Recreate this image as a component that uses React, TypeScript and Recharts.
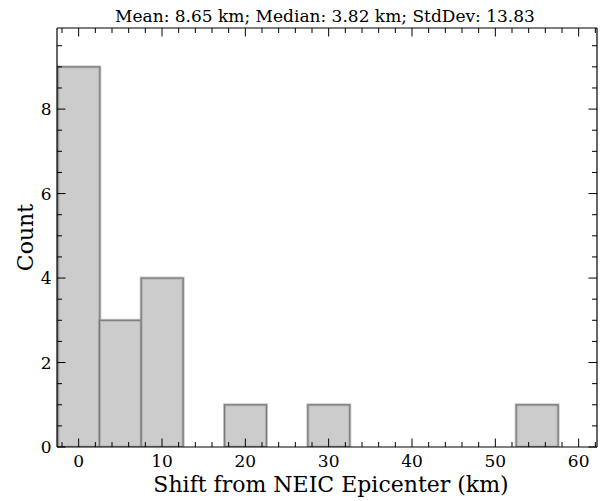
import React from 'react';
import { ComposedChart, Bar, Line, XAxis, YAxis } from 'recharts';

// Histogram bins (5 km wide, centred on these values) and their counts
const binCenters = [0, 5, 10, 15, 20, 25, 30, 35, 40, 45, 50, 55];
const binCounts = [9, 3, 4, 0, 1, 0, 1, 0, 0, 0, 0, 1];

// Axis ranges and ticks
const xDomain: [number, number] = [-2.6, 62.2];
const yDomain: [number, number] = [0, 9.92];
const xTicks = [-2, 0, 2, 4, 6, 8, 10, 12, 14, 16, 18, 20, 22, 24, 26, 28, 30, 32, 34, 36, 38, 40, 42, 44, 46, 48, 50, 52, 54, 56, 58, 60, 62];
const xMajorTicks = [0, 10, 20, 30, 40, 50, 60];
const yTicks = [0, 0.5, 1, 1.5, 2, 2.5, 3, 3.5, 4, 4.5, 5, 5.5, 6, 6.5, 7, 7.5, 8, 8.5, 9, 9.5];
const yMajorTicks = [0, 2, 4, 6, 8];

const titleText = 'Mean: 8.65 km; Median: 3.82 km; StdDev: 13.83';
const xLabelText = 'Shift from NEIC Epicenter (km)';
const yLabelText = 'Count';

const data = binCenters.map((c, i) => ({ center: c, count: binCounts[i] }));

const FONT = '"DejaVu Serif", serif';
const MAJOR_LEN = 8.5;
const MINOR_LEN = 5;

const BottomTick = (props: any) => {
  const { x, y, payload } = props;
  const v = payload.value;
  const major = xMajorTicks.includes(v);
  return (
    <g>
      <line x1={x} x2={x} y1={y} y2={y - (major ? MAJOR_LEN : MINOR_LEN)} stroke="#000" strokeWidth={1} />
      {major && (
        <text x={x} y={y + 20} textAnchor="middle" fontFamily={FONT} fontSize={17} fill="#000">
          {v}
        </text>
      )}
    </g>
  );
};

const TopTick = (props: any) => {
  const { x, y, payload } = props;
  const major = xMajorTicks.includes(payload.value);
  return <line x1={x} x2={x} y1={y} y2={y + (major ? MAJOR_LEN : MINOR_LEN)} stroke="#000" strokeWidth={1} />;
};

const LeftTick = (props: any) => {
  const { x, y, payload } = props;
  const v = payload.value;
  const major = yMajorTicks.includes(v);
  return (
    <g>
      <line x1={x} x2={x + (major ? MAJOR_LEN : MINOR_LEN)} y1={y} y2={y} stroke="#000" strokeWidth={1} />
      {major && (
        <text x={x - 5.5} y={y} textAnchor="end" dominantBaseline="central" fontFamily={FONT} fontSize={17} fill="#000">
          {v}
        </text>
      )}
    </g>
  );
};

const RightTick = (props: any) => {
  const { x, y, payload } = props;
  const major = yMajorTicks.includes(payload.value);
  return <line x1={x} x2={x - (major ? MAJOR_LEN : MINOR_LEN)} y1={y} y2={y} stroke="#000" strokeWidth={1} />;
};

// Grey histogram bar with a soft darker outline
const HistBar = (props: any) => {
  const { x, y, width, height } = props;
  if (!height || height <= 0) return <g />;
  return (
    <g>
      <rect x={x} y={y} width={width} height={height} fill="#cccccc" />
      <rect x={x} y={y} width={width} height={height} fill="none" stroke="#9a9a9a" strokeWidth={3} strokeOpacity={0.55} />
      <rect x={x} y={y} width={width} height={height} fill="none" stroke="#7a7a7a" strokeWidth={1.2} />
    </g>
  );
};

const TitleLabel = (props: any) => {
  const vb = props.viewBox || {};
  return (
    <text x={vb.x + vb.width / 2 - 2} y={vb.y + vb.height - 6.5} textAnchor="middle" fontFamily={FONT} fontSize={17} fill="#000">
      {titleText}
    </text>
  );
};

const XTitle = (props: any) => {
  const vb = props.viewBox || {};
  return (
    <text x={vb.x + vb.width / 2 + 4} y={vb.y + 45} textAnchor="middle" fontFamily={FONT} fontSize={22} fill="#000">
      {xLabelText}
    </text>
  );
};

const YTitle = (props: any) => {
  const vb = props.viewBox || {};
  const cx = 33;
  const cy = vb.y + vb.height / 2;
  return (
    <text x={cx} y={cy} transform={`rotate(-90, ${cx}, ${cy})`} textAnchor="middle" fontFamily={FONT} fontSize={22} fill="#000">
      {yLabelText}
    </text>
  );
};

export default function App() {
  return (
    <div style={{ position: 'absolute', left: 0, top: 0 }}>
      <ComposedChart
        width={601}
        height={501}
        data={data}
        margin={{ top: 27, right: 3, bottom: 0, left: 0 }}
        barCategoryGap={0}
        barGap={0}
      >
        <XAxis
          xAxisId={0}
          dataKey="center"
          type="number"
          domain={xDomain}
          allowDataOverflow
          ticks={xTicks}
          interval={0}
          tick={<BottomTick />}
          tickLine={false}
          tickSize={0}
          tickMargin={0}
          height={54}
          axisLine={{ stroke: '#000', strokeWidth: 1.2 }}
          label={<XTitle />}
        />
        <XAxis
          xAxisId="top"
          orientation="top"
          dataKey="center"
          type="number"
          domain={xDomain}
          allowDataOverflow
          ticks={xTicks}
          interval={0}
          tick={<TopTick />}
          tickLine={false}
          tickSize={0}
          tickMargin={0}
          height={1}
          axisLine={{ stroke: '#000', strokeWidth: 1.2 }}
          label={<TitleLabel />}
        />
        <YAxis
          yAxisId={0}
          type="number"
          domain={yDomain}
          allowDataOverflow
          ticks={yTicks}
          interval={0}
          tick={<LeftTick />}
          tickLine={false}
          tickSize={0}
          tickMargin={0}
          width={57}
          axisLine={{ stroke: '#000', strokeWidth: 1.2 }}
          label={<YTitle />}
        />
        <YAxis
          yAxisId="right"
          orientation="right"
          type="number"
          domain={yDomain}
          allowDataOverflow
          ticks={yTicks}
          interval={0}
          tick={<RightTick />}
          tickLine={false}
          tickSize={0}
          tickMargin={0}
          width={1}
          axisLine={{ stroke: '#000', strokeWidth: 1.2 }}
        />
        <Bar dataKey="count" xAxisId={0} yAxisId={0} shape={<HistBar />} isAnimationActive={false} />
        {/* invisible series that ties the top and right frame axes to the data */}
        <Line dataKey="count" xAxisId="top" yAxisId="right" stroke="none" dot={false} activeDot={false} isAnimationActive={false} />
      </ComposedChart>
    </div>
  );
}
